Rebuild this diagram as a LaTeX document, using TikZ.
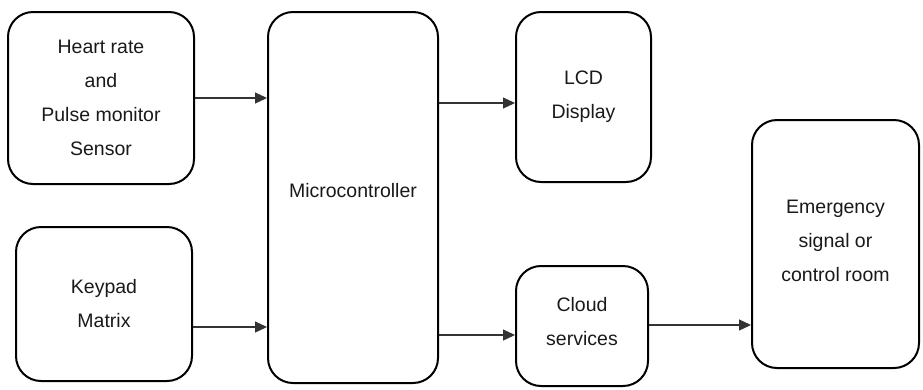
\documentclass[tikz,border=0pt]{standalone}
\usepackage{fontspec}
\setmainfont{Liberation Sans}
\usetikzlibrary{arrows.meta}
\begin{document}
\begin{tikzpicture}[x=1pt,y=-1pt,
  blk/.style={draw=black, line width=2pt, rounded corners=25pt, align=center,
    inner sep=0pt, text=black!90,
    font=\fontsize{19.5}{34}\selectfont},
  arr/.style={draw=black!80, line width=1.2pt, -{Triangle[length=12pt,width=11pt]}}]
\useasboundingbox (0,0) rectangle (923,389);
\node[blk, minimum width=186pt, minimum height=172pt] (h) at (101,98)
  {Heart rate\\and\\Pulse monitor\\Sensor};
\node[blk, minimum width=176pt, minimum height=154pt] (k) at (104,304)
  {Keypad\\Matrix};
\node[blk, minimum width=170pt, minimum height=371pt, text depth=14pt] (m) at (353,197.5)
  {Microcontroller};
\node[blk, minimum width=135pt, minimum height=170pt] (l) at (583.5,97)
  {LCD\\Display};
\node[blk, minimum width=132pt, minimum height=120pt, text depth=10pt] (c) at (582,326)
  {Cloud\\services};
\node[blk, minimum width=167pt, minimum height=248pt, text depth=6pt] (e) at (835.5,244)
  {Emergency\\signal or\\control room};
\draw[arr] (h.east |- 0,98) -- (m.west |- 0,98);
\draw[arr] (k.east |- 0,327) -- (m.west |- 0,327);
\draw[arr] (m.east |- 0,103) -- (l.west |- 0,103);
\draw[arr] (m.east |- 0,335) -- (c.west |- 0,335);
\draw[arr] (c.east |- 0,325) -- (e.west |- 0,325);
\end{tikzpicture}
\end{document}
